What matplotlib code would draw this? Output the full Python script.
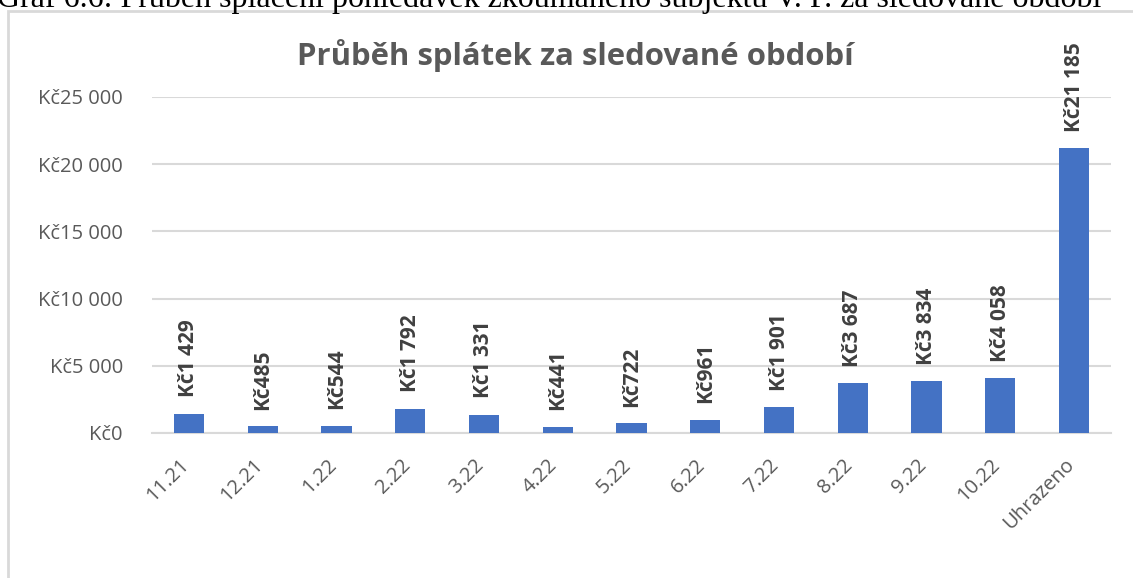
import matplotlib
matplotlib.use("Agg")
import matplotlib.pyplot as plt
from matplotlib.patches import Rectangle
import matplotlib.transforms as mtransforms

categories = ["11.21", "12.21", "1.22", "2.22", "3.22", "4.22", "5.22", "6.22",
              "7.22", "8.22", "9.22", "10.22", "Uhrazeno"]
values = [1429, 485, 544, 1792, 1331, 441, 722, 961, 1901, 3687, 3834, 4058, 21185]
yticks = [0, 5000, 10000, 15000, 20000, 25000]
title = "Průběh splátek za sledované období"
caption = "Graf 6.6: Průběh splácení pohledávek zkoumaného subjektu V. P. za sledované období"

def fmt(v):
    s = f"{v:,}".replace(",", " ")
    return "Kč" + s

W, H = 1133, 578
fig = plt.figure(figsize=(W / 100, H / 100), dpi=100)
fig.patch.set_facecolor("white")

# outer chart frame (partially cropped)
frame = Rectangle((8 / W, -0.1), 1.2, 1 - 11 / H + 0.1, transform=fig.transFigure,
                  facecolor="none", edgecolor="#d9d9d9", linewidth=2.0, zorder=0)
fig.patches.append(frame)

# cropped caption at the top
fig.text(-3 / W, 1 - 7 / H, caption, fontsize=23, family="Liberation Serif",
         va="baseline", ha="left", color="black")

left, right = 152 / W, 1111 / W
bottom, top = 1 - 433 / H, 1 - 97 / H
ax = fig.add_axes([left, bottom, right - left, top - bottom])

font = "Open Sans"
grid_c = "#d9d9d9"
text_c = "#595959"

x = list(range(len(categories)))
ax.bar(x, values, width=0.41, color="#4472c4", zorder=3)

ax.set_xlim(-0.5, len(categories) - 0.5)
ax.set_ylim(0, 25000)
ax.set_yticks(yticks)
ax.set_yticklabels([fmt(v) for v in yticks], fontsize=14.5, family=font, color=text_c)
ax.yaxis.grid(True, color=grid_c, linewidth=1.5, zorder=0)
ax.set_axisbelow(True)
for s in ["top", "right", "left"]:
    ax.spines[s].set_visible(False)
ax.spines["bottom"].set_color(grid_c)
ax.spines["bottom"].set_linewidth(1.5)
ax.tick_params(axis="y", length=0, pad=21)
ax.tick_params(axis="x", length=0, pad=0)

ax.set_xticks(x)
ax.set_xticklabels(categories, rotation=45, ha="right", va="center",
                   rotation_mode="anchor", fontsize=14.5, family=font, color=text_c)
offset = mtransforms.ScaledTranslation(-3 / 100, -29 / 100, fig.dpi_scale_trans)
for lab in ax.get_xticklabels():
    lab.set_transform(lab.get_transform() + offset)

for xi, v in zip(x, values):
    ax.annotate(fmt(v), (xi, v), xytext=(0, 12), textcoords="offset points",
                rotation=90, ha="center", va="bottom", fontsize=15,
                fontweight="bold", family=font, color="#404040",
                annotation_clip=False, zorder=4)

fig.text(575 / W, 1 - 65 / H, title, fontsize=22.4, fontweight="bold", family=font,
         color=text_c, ha="center", va="baseline")

fig.savefig("out.png", dpi=100)
